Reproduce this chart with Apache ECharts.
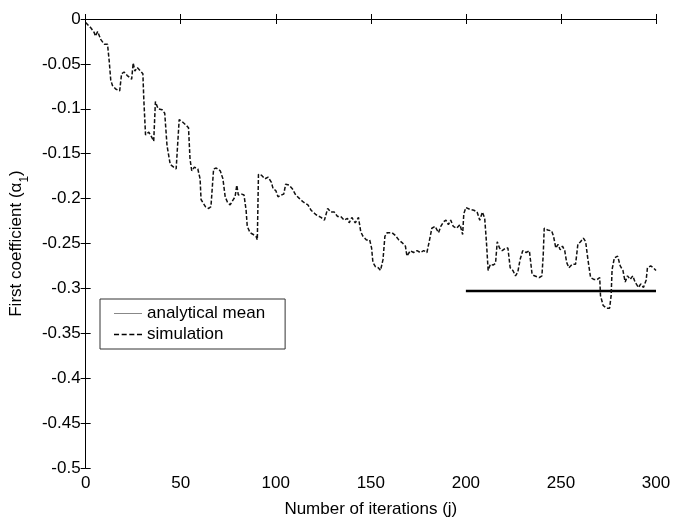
<!DOCTYPE html>
<html>
<head>
<meta charset="utf-8">
<script src="https://cdn.jsdelivr.net/npm/echarts@6/dist/echarts.min.js"></script>
<style>
  html, body { margin: 0; padding: 0; background: #fff; }
  #chart { width: 674px; height: 523px; }
</style>
</head>
<body>
<div id="chart"></div>
<script>
'use strict';

// iteration index j of each traced point of the simulation
var simJ = [0, 2.8, 4.5, 5.1, 6.3, 8, 9.8, 11.5, 12.4, 13.2, 14.1, 15.8, 17.9, 18.9, 20.2, 21.9, 24.2, 25, 25.9, 27.1,
  28.9, 30.1, 30.6, 31.5, 33.2, 34.6, 35.8, 36.7, 38.1, 40.2, 41.6, 42.8, 44.5, 46.3, 47.6, 49.2, 50.6, 52.7, 54.1, 54.9,
  55.8, 57.2, 59, 60.2, 60.7, 61.7, 63, 64.7, 65.9, 67.3, 68.7, 70.8, 72.2, 73.4, 74.6, 76, 77.4, 78.6, 79.5, 80.3,
  82.1, 83.3, 84.4, 85, 86.5, 88.2, 89.6, 90.3, 90.9, 92.5, 94.3, 96, 97.7, 98.6, 100, 101.2, 102.9, 104.2, 105.2, 107,
  108.7, 110.5, 112.5, 114.6, 116.9, 118.6, 121.2, 123.8, 125.6, 127.3, 129, 130.8, 132.5, 134.2, 136, 137.7, 138.6, 140, 141.8, 143.5,
  144.7, 145.9, 147.7, 149.4, 150.4, 151.1, 152.5, 153.9, 155.1, 156.4, 157.4, 158.6, 161.2, 162.9, 164.7, 166.4, 168.2, 169, 170.8, 172.5,
  174.3, 176, 177.8, 179.5, 180.7, 182.1, 183.8, 185.6, 186.8, 188.2, 189.5, 190.8, 192, 193.4, 195.1, 196.9, 198.3, 198.9, 200, 202.1,
  204.2, 205.9, 207.3, 208.7, 209.9, 210.8, 211.7, 212.9, 214.3, 215.6, 216.5, 217.7, 219.1, 220.9, 222.1, 223.3, 224.7, 226.1, 227.3, 228.5,
  229.9, 231.7, 233.4, 234.8, 236, 238.6, 240, 240.7, 241.2, 243, 245.1, 246.1, 247.3, 248.5, 249.6, 250.8, 252, 253, 254.2, 256,
  257.7, 258.9, 260.3, 261.8, 263, 264.2, 265.6, 267.3, 269.1, 270.4, 270.8, 272.2, 273.9, 275.6, 276.4, 276.9, 278.1, 279.8, 281.2, 282.6,
  283.8, 285, 286.4, 287.8, 289, 290.8, 292, 293.4, 294.8, 295.5, 297.2, 298.6, 300];

// first coefficient alpha_1 at those points
var simVal = [-0.004, -0.010, -0.015, -0.019, -0.014, -0.023, -0.028, -0.028, -0.047, -0.068, -0.074, -0.078, -0.080, -0.061, -0.059, -0.063, -0.067, -0.049, -0.058, -0.054,
  -0.058, -0.061, -0.090, -0.129, -0.126, -0.131, -0.136, -0.092, -0.100, -0.101, -0.105, -0.141, -0.162, -0.165, -0.167, -0.112, -0.114, -0.118, -0.121, -0.156,
  -0.169, -0.165, -0.167, -0.178, -0.201, -0.200, -0.209, -0.211, -0.209, -0.167, -0.166, -0.169, -0.178, -0.198, -0.204, -0.207, -0.202, -0.198, -0.185, -0.196,
  -0.195, -0.196, -0.213, -0.231, -0.238, -0.240, -0.242, -0.246, -0.173, -0.174, -0.178, -0.176, -0.182, -0.189, -0.191, -0.198, -0.196, -0.195, -0.184, -0.185,
  -0.189, -0.196, -0.200, -0.204, -0.207, -0.213, -0.218, -0.221, -0.224, -0.211, -0.215, -0.215, -0.220, -0.220, -0.224, -0.222, -0.227, -0.221, -0.227, -0.221,
  -0.237, -0.242, -0.246, -0.246, -0.255, -0.271, -0.276, -0.277, -0.280, -0.268, -0.242, -0.238, -0.238, -0.241, -0.246, -0.249, -0.253, -0.264, -0.258, -0.260,
  -0.258, -0.260, -0.258, -0.260, -0.248, -0.233, -0.231, -0.238, -0.231, -0.226, -0.224, -0.229, -0.224, -0.231, -0.233, -0.229, -0.240, -0.217, -0.210, -0.212,
  -0.213, -0.215, -0.224, -0.215, -0.222, -0.248, -0.280, -0.273, -0.274, -0.272, -0.248, -0.255, -0.258, -0.255, -0.255, -0.277, -0.280, -0.286, -0.282, -0.268,
  -0.258, -0.260, -0.258, -0.284, -0.286, -0.288, -0.286, -0.262, -0.233, -0.235, -0.236, -0.242, -0.255, -0.251, -0.257, -0.253, -0.258, -0.271, -0.277, -0.273,
  -0.273, -0.251, -0.248, -0.244, -0.248, -0.268, -0.288, -0.290, -0.290, -0.288, -0.308, -0.319, -0.322, -0.322, -0.308, -0.279, -0.266, -0.264, -0.275, -0.280,
  -0.293, -0.286, -0.290, -0.286, -0.293, -0.299, -0.295, -0.299, -0.291, -0.277, -0.275, -0.277, -0.280];

var meanJ = [200, 300];
var meanVal = [-0.303, -0.303];

var xTicks = { min: 0, max: 300, interval: 50 };
var yTicks = { min: -0.5, max: 0, interval: 0.05 };

function zip(xs, ys) {
  var out = [];
  var n = Math.min(xs.length, ys.length);
  for (var i = 0; i < n; i++) out.push([xs[i], ys[i]]);
  return out;
}

var font = 'Liberation Sans, Arial, sans-serif';
var axisLine = { show: true, lineStyle: { color: '#000', width: 1 } };
var tick = { show: true, inside: true, length: 5, lineStyle: { color: '#000' } };

var option = {
  animation: false,
  backgroundColor: '#fff',
  grid: { left: 81, right: 18, top: 19, bottom: 46 },
  legend: {
    orient: 'vertical',
    left: 100,
    top: 299,
    padding: [6, 20, 6, 14],
    itemGap: 4,
    itemWidth: 28,
    itemHeight: 12,
    borderColor: '#333',
    borderWidth: 1,
    backgroundColor: '#fff',
    textStyle: { fontFamily: font, fontSize: 17, color: '#000' },
    data: [
      { name: 'analytical mean', icon: 'path://M0,0h28v1h-28z', itemStyle: { color: '#888' } },
      { name: 'simulation', icon: 'path://M0,0h5v1.3h-5zM7.6,0h5v1.3h-5zM15.2,0h5v1.3h-5zM22.8,0h5v1.3h-5z', itemStyle: { color: '#000' } }
    ]
  },
  xAxis: [{
    type: 'value',
    min: xTicks.min, max: xTicks.max, interval: xTicks.interval,
    name: 'Number of iterations (j)',
    nameLocation: 'middle',
    nameGap: 33,
    nameTextStyle: { fontFamily: font, fontSize: 17, color: '#000' },
    axisLine: axisLine,
    axisTick: tick,
    splitLine: { show: false },
    axisLabel: { fontFamily: font, fontSize: 17, color: '#000', margin: 7 }
  }, {
    type: 'value', position: 'top',
    min: xTicks.min, max: xTicks.max, interval: xTicks.interval,
    axisLine: axisLine, axisTick: tick,
    splitLine: { show: false }, axisLabel: { show: false }
  }],
  yAxis: [{
    type: 'value',
    min: yTicks.min, max: yTicks.max, interval: yTicks.interval,
    name: 'First coefficient (α{sub|1})',
    nameLocation: 'middle',
    nameGap: 54,
    nameTextStyle: {
      fontFamily: font, fontSize: 17, color: '#000',
      rich: { sub: { fontFamily: font, fontSize: 12, verticalAlign: 'bottom', padding: [0, 0, -6, 0] } }
    },
    axisLine: axisLine,
    axisTick: tick,
    splitLine: { show: false },
    axisLabel: {
      fontFamily: font, fontSize: 17, color: '#000', margin: 5,
      formatter: function (v) { return String(Math.round(v * 100) / 100); }
    }
  }, {
    type: 'value', position: 'right',
    min: yTicks.min, max: yTicks.max, interval: yTicks.interval,
    axisLine: axisLine, axisTick: tick,
    splitLine: { show: false }, axisLabel: { show: false }
  }],
  series: [{
    name: 'analytical mean',
    type: 'line',
    data: zip(meanJ, meanVal),
    showSymbol: false,
    symbol: 'none',
    lineStyle: { color: '#000', width: 2.5 },
    itemStyle: { color: '#000' },
    z: 3
  }, {
    name: 'simulation',
    type: 'line',
    data: zip(simJ, simVal),
    showSymbol: false,
    symbol: 'none',
    lineStyle: { color: '#111', width: 1.5, type: [4, 2] },
    itemStyle: { color: '#111' },
    z: 4
  }]
};

var myChart = echarts.init(document.getElementById('chart'), null, { renderer: 'canvas' });
myChart.setOption(option);
</script>
</body>
</html>
